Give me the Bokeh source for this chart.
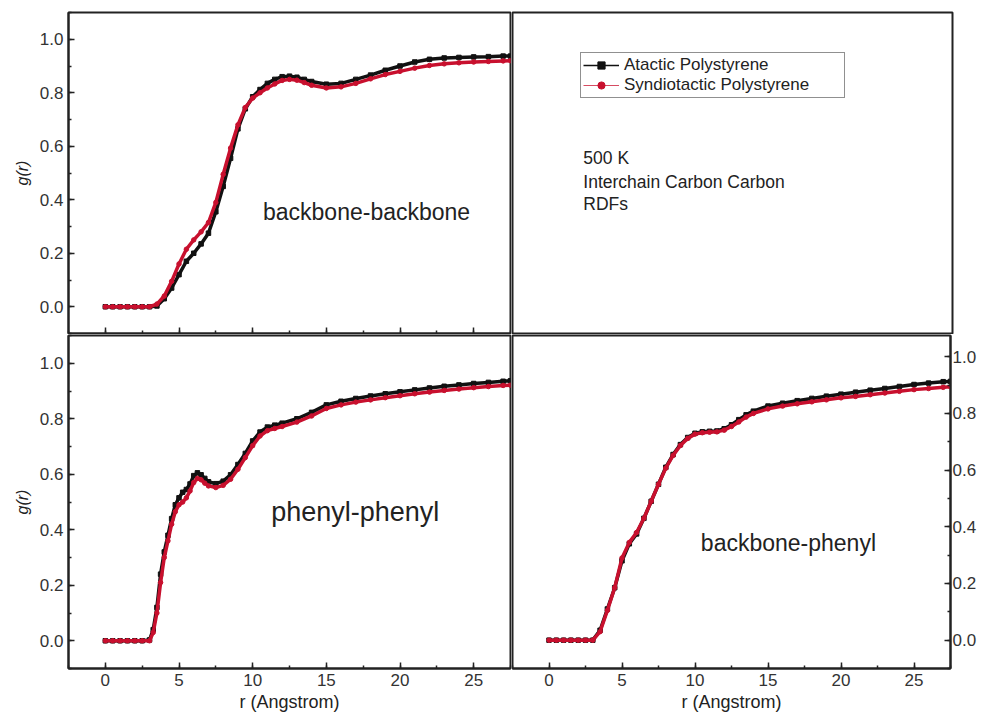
from bokeh.plotting import figure
from bokeh.models import (Range1d, SingleIntervalTicker, PrintfTickFormatter,
                          CustomJSTickFormatter, Label, Legend, LegendItem)
from bokeh.layouts import column, row
from bokeh.embed import file_html
from bokeh.resources import INLINE

# ---------------- data ----------------
series_names = ["Atactic Polystyrene", "Syndiotactic Polystyrene"]
panel_titles = ["backbone-backbone", "phenyl-phenyl", "backbone-phenyl"]
info_lines = ["500 K", "Interchain Carbon Carbon", "RDFs"]
x_title = "r (Angstrom)"
y_title = "g(r)"

# backbone-backbone
r_bb = [0, 0.5, 1, 1.5, 2, 2.5, 3, 3.5, 4, 4.5, 5, 5.5, 6, 6.5, 7, 7.5, 8, 8.5,
        9, 9.5, 10, 10.5, 11, 11.5, 12, 12.5, 13, 13.5, 14, 15, 16, 17, 18, 19,
        20, 21, 22, 23, 24, 25, 26, 27, 27.5]
g_bb_atactic = [0, 0, 0, 0, 0, 0, 0, 0.003, 0.03, 0.07, 0.12, 0.17, 0.20, 0.235,
                0.275, 0.355, 0.45, 0.555, 0.665, 0.74, 0.785, 0.812, 0.835, 0.85,
                0.86, 0.862, 0.858, 0.85, 0.842, 0.832, 0.835, 0.85, 0.866, 0.884,
                0.9, 0.915, 0.925, 0.93, 0.932, 0.934, 0.935, 0.937, 0.937]
g_bb_syndio = [0, 0, 0, 0, 0, 0, 0, 0.01, 0.04, 0.095, 0.16, 0.215, 0.25, 0.28,
               0.315, 0.39, 0.495, 0.593, 0.68, 0.745, 0.78, 0.80, 0.818, 0.833,
               0.846, 0.85, 0.847, 0.838, 0.828, 0.818, 0.822, 0.835, 0.852, 0.868,
               0.88, 0.892, 0.902, 0.908, 0.912, 0.915, 0.917, 0.919, 0.92]

# phenyl-phenyl
r_pp = [0, 0.5, 1, 1.5, 2, 2.5, 3, 3.25, 3.5, 3.75, 4, 4.25, 4.5, 4.75, 5, 5.25,
        5.5, 5.75, 6, 6.25, 6.5, 6.75, 7, 7.5, 8, 8.5, 9, 9.5, 10, 10.5, 11, 11.5,
        12, 13, 14, 15, 16, 17, 18, 19, 20, 21, 22, 23, 24, 25, 26, 27, 27.5]
g_pp_atactic = [0, 0, 0, 0, 0, 0, 0.003, 0.04, 0.12, 0.24, 0.32, 0.38, 0.44, 0.49,
                0.515, 0.535, 0.545, 0.565, 0.595, 0.605, 0.598, 0.585, 0.573,
                0.566, 0.575, 0.598, 0.635, 0.675, 0.72, 0.752, 0.77, 0.777, 0.784,
                0.80, 0.823, 0.85, 0.863, 0.873, 0.882, 0.89, 0.897, 0.904, 0.911,
                0.917, 0.922, 0.927, 0.931, 0.935, 0.937]
g_pp_syndio = [0, 0, 0, 0, 0, 0, 0.0, 0.03, 0.10, 0.21, 0.30, 0.36, 0.42, 0.465,
               0.49, 0.50, 0.515, 0.54, 0.57, 0.585, 0.58, 0.568, 0.558, 0.552,
               0.56, 0.582, 0.618, 0.66, 0.703, 0.738, 0.757, 0.765, 0.772, 0.788,
               0.81, 0.837, 0.85, 0.86, 0.868, 0.876, 0.883, 0.89, 0.896, 0.902,
               0.907, 0.912, 0.916, 0.92, 0.921]

# backbone-phenyl
r_bp = [0, 0.5, 1, 1.5, 2, 2.5, 3, 3.5, 4, 4.5, 5, 5.5, 6, 6.5, 7, 7.5, 8, 8.5,
        9, 9.5, 10, 10.5, 11, 11.5, 12, 12.5, 13, 13.5, 14, 15, 16, 17, 18, 19,
        20, 21, 22, 23, 24, 25, 26, 27, 27.5]
g_bp_atactic = [0, 0, 0, 0, 0, 0, 0, 0.035, 0.11, 0.185, 0.28, 0.34, 0.375, 0.43,
                0.49, 0.55, 0.61, 0.655, 0.69, 0.715, 0.73, 0.735, 0.737, 0.738,
                0.746, 0.76, 0.778, 0.795, 0.808, 0.826, 0.836, 0.845, 0.853, 0.861,
                0.868, 0.875, 0.882, 0.888, 0.895, 0.902, 0.907, 0.912, 0.913]
g_bp_syndio = [0, 0, 0, 0, 0, 0, 0, 0.03, 0.105, 0.185, 0.29, 0.345, 0.38, 0.43,
               0.49, 0.55, 0.607, 0.652, 0.687, 0.712, 0.727, 0.732, 0.734, 0.735,
               0.741, 0.754, 0.77, 0.787, 0.80, 0.816, 0.826, 0.834, 0.841, 0.848,
               0.855, 0.86, 0.866, 0.872, 0.878, 0.884, 0.888, 0.892, 0.894]

# ---------------- styling ----------------
FONT = "Liberation Sans"
INK = "#222222"
BLACK = "#111111"
RED = "#c8102e"
TICK_SIZE = "17px"

L_BORDER = 68
R_BORDER = 27
TOP_BORDER = 12
BOTTOM_BORDER = 48
FW_LEFT = 442
FW_RIGHT = 440
FH_TOP = 321
FH_BOTTOM = 333


def make_fig(width, height, borders, xr, yr, x_loc, y_loc):
    p = figure(width=width, height=height, x_range=Range1d(*xr), y_range=Range1d(*yr),
               x_axis_location=x_loc, y_axis_location=y_loc,
               toolbar_location=None, output_backend="svg",
               min_border_left=borders[0], min_border_right=borders[1],
               min_border_top=borders[2], min_border_bottom=borders[3])
    p.outline_line_color = INK
    p.outline_line_width = 2
    p.background_fill_color = "white"
    p.border_fill_color = "white"
    for g in p.grid:
        g.visible = False
    return p


def style_axis(ax, interval, fmt, labels=True):
    ax.ticker = SingleIntervalTicker(interval=interval, num_minor_ticks=2)
    ax.axis_line_color = INK
    ax.axis_line_width = 2
    ax.major_tick_in = 6
    ax.major_tick_out = 0
    ax.minor_tick_in = 3
    ax.minor_tick_out = 0
    ax.major_tick_line_color = INK
    ax.minor_tick_line_color = INK
    ax.major_tick_line_width = 1.5
    ax.minor_tick_line_width = 1.5
    ax.major_label_text_font = FONT
    ax.major_label_text_color = "#333333"
    if labels:
        ax.formatter = PrintfTickFormatter(format=fmt)
        ax.major_label_text_font_size = TICK_SIZE
        ax.major_label_standoff = 5
    else:
        ax.formatter = CustomJSTickFormatter(code="return ''")
        ax.major_label_text_font_size = "1px"
        ax.major_label_standoff = 0


def style_ylabel(ax):
    ax.axis_label = y_title
    ax.axis_label_text_font = FONT
    ax.axis_label_text_font_style = "italic"
    ax.axis_label_text_font_size = "16px"
    ax.axis_label_text_color = INK
    ax.axis_label_standoff = 6


def style_xlabel(ax):
    ax.axis_label = x_title
    ax.axis_label_text_font = FONT
    ax.axis_label_text_font_style = "normal"
    ax.axis_label_text_font_size = "18px"
    ax.axis_label_text_color = INK
    ax.axis_label_standoff = 3


def draw(p, r, a, s):
    p.line(r, a, color=BLACK, line_width=3.5)
    p.scatter(r, a, marker="square", size=4.5, color=BLACK)
    p.line(r, s, color=RED, line_width=3.5)
    p.scatter(r, s, marker="circle", size=4.5, color=RED)


def panel_title(p, text, x, y, size):
    p.add_layout(Label(x=x, y=y, text=text, text_align="left", text_baseline="middle",
                       text_font=FONT, text_font_size=size, text_color=INK))


XR = (-2.5, 27.5)
YR = (-0.1, 1.1)

# top-left: backbone-backbone
tl = make_fig(L_BORDER + FW_LEFT + 1, TOP_BORDER + FH_TOP + 1,
              (L_BORDER, 1, TOP_BORDER, 1), XR, YR, "below", "left")
style_axis(tl.xaxis[0], 5, "%d", labels=False)
style_axis(tl.yaxis[0], 0.2, "%.1f")
style_ylabel(tl.yaxis[0])
draw(tl, r_bb, g_bb_atactic, g_bb_syndio)
panel_title(tl, panel_titles[0], 10.7, 0.356, "23px")

# top-right: legend and notes (legend proxies are hidden copies of the series)
tr = make_fig(1 + FW_RIGHT + R_BORDER, TOP_BORDER + FH_TOP + 1,
              (1, R_BORDER, TOP_BORDER, 1), (0, 1), (0, 1), None, None)
la = tr.line(r_bb, g_bb_atactic, color=BLACK, line_width=1.3, visible=False)
sa = tr.scatter(r_bb, g_bb_atactic, marker="square", size=3, color=BLACK, visible=False)
ls = tr.line(r_bb, g_bb_syndio, color=RED, line_width=1.2, line_alpha=0.75, visible=False)
ss = tr.scatter(r_bb, g_bb_syndio, marker="circle", size=3, color=RED, visible=False)
legend = Legend(items=[LegendItem(label=series_names[0], renderers=[la, sa]),
                       LegendItem(label=series_names[1], renderers=[ls, ss])],
                location=(68, 235), label_text_font=FONT, label_text_font_size="17px",
                label_text_color=INK, glyph_width=36, glyph_height=18,
                label_height=18, label_width=218, label_standoff=5, padding=2,
                spacing=0, margin=0, border_line_color=INK, border_line_width=1.5,
                background_fill_alpha=1.0, inactive_fill_alpha=0.0,
                click_policy="none")
tr.add_layout(legend, "center")
for txt, yy in zip(info_lines, [0.548, 0.4735, 0.402]):
    tr.add_layout(Label(x=0.161, y=yy, text=txt, text_align="left",
                        text_baseline="middle", text_font=FONT,
                        text_font_size="17.5px", text_color=INK))

# bottom-left: phenyl-phenyl
bl = make_fig(L_BORDER + FW_LEFT + 1, 1 + FH_BOTTOM + BOTTOM_BORDER,
              (L_BORDER, 1, 1, BOTTOM_BORDER), XR, YR, "below", "left")
style_axis(bl.xaxis[0], 5, "%d")
style_xlabel(bl.xaxis[0])
style_axis(bl.yaxis[0], 0.2, "%.1f")
style_ylabel(bl.yaxis[0])
draw(bl, r_pp, g_pp_atactic, g_pp_syndio)
panel_title(bl, panel_titles[1], 11.26, 0.465, "27px")

# bottom-right: backbone-phenyl
br = make_fig(1 + FW_RIGHT + R_BORDER, 1 + FH_BOTTOM + BOTTOM_BORDER,
              (1, R_BORDER, 1, BOTTOM_BORDER), XR, (-0.1, 1.075), "below", "right")
style_axis(br.xaxis[0], 5, "%d")
style_xlabel(br.xaxis[0])
style_axis(br.yaxis[0], 0.2, "%.1f")
br.yaxis[0].major_label_standoff = 2
draw(br, r_bp, g_bp_atactic, g_bp_syndio)
panel_title(br, panel_titles[2], 10.4, 0.343, "23px")

layout = column(row(tl, tr), row(bl, br))

open("out.html", "w").write(file_html(layout, INLINE))
